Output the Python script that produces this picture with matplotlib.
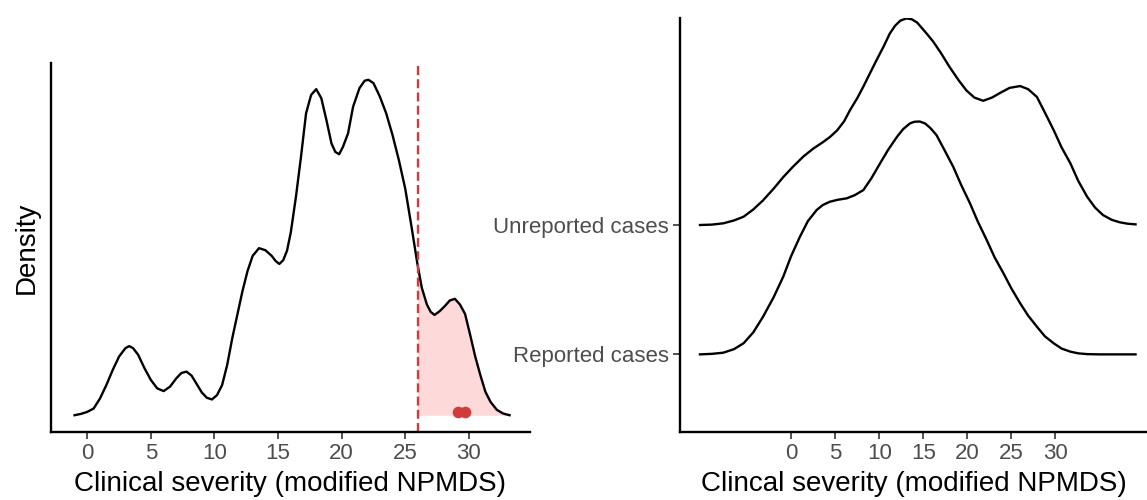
import numpy as np
import matplotlib.pyplot as plt

plt.rcParams['font.family'] = ['Liberation Sans', 'DejaVu Sans']

# left panel: density of clinical severity (relative height)
sev_x = [-1.0, -0.5, 0.0, 0.5, 1.0, 1.5, 2.0, 2.5, 3.0, 3.3, 3.6, 4.0, 4.5, 5.0, 5.5, 6.0,
         6.5, 7.0, 7.4, 7.8, 8.2, 8.6, 9.0, 9.4, 9.8, 10.2, 10.6, 11.0, 11.4, 11.8, 12.2,
         12.6, 13.0, 13.5, 14.0, 14.5, 14.8, 15.1, 15.4, 15.7, 16.0, 16.4, 16.8, 17.2, 17.6,
         18.0, 18.4, 18.8, 19.2, 19.5, 19.8, 20.1, 20.5, 20.9, 21.4, 21.8, 22.1, 22.5, 23.0,
         23.5, 24.0, 24.5, 25.0, 25.5, 25.96, 26.3, 26.7, 27.0, 27.3, 27.7, 28.1, 28.5, 28.9,
         29.3, 29.7, 30.1, 30.5, 30.9, 31.3, 31.7, 32.2, 32.7, 33.2]
sev_d = [0.0, 0.004, 0.01, 0.02, 0.05, 0.09, 0.135, 0.175, 0.2, 0.206, 0.2, 0.18, 0.14, 0.105, 0.08, 0.072,
         0.085, 0.11, 0.126, 0.13, 0.118, 0.093, 0.068, 0.052, 0.047, 0.06, 0.09, 0.15, 0.23, 0.3, 0.37,
         0.43, 0.475, 0.498, 0.492, 0.475, 0.46, 0.451, 0.462, 0.49, 0.545, 0.65, 0.77, 0.9, 0.955,
         0.972, 0.945, 0.88, 0.81, 0.785, 0.778, 0.8, 0.84, 0.92, 0.975, 0.997, 1.0, 0.99, 0.95,
         0.9, 0.835, 0.76, 0.675, 0.56, 0.45, 0.38, 0.33, 0.308, 0.299, 0.31, 0.325, 0.342, 0.347,
         0.33, 0.302, 0.24, 0.175, 0.12, 0.07, 0.04, 0.016, 0.005, 0.0]
cutoff = 25.96
cases_x = [29.15, 29.73]
cases_y = [0.01, 0.01]

# right panel: ridgelines
unrep_x = [-10.35, -9, -7.7, -6.5, -5.4, -4.3, -3.2, -2, -0.9, 0.2, 1.4, 2.5, 3.6, 4.4, 5.2, 6.0,
           6.7, 7.5, 8.2, 9.0, 9.7, 10.5, 11.2, 11.8, 12.4, 13.1, 13.7, 14.3, 15.0, 15.5, 16.1,
           17.0, 18.0, 19.0, 19.9, 20.8, 21.8, 22.8, 23.7, 24.8, 26.0, 26.9, 27.9, 28.8, 29.8,
           30.7, 31.7, 32.6, 33.6, 34.5, 35.4, 36.4, 37.3, 38.2, 39.1]
unreported = [0.0, 0.003, 0.013, 0.035, 0.064, 0.12, 0.19, 0.28, 0.37, 0.45, 0.53, 0.59, 0.64, 0.68,
              0.73, 0.8, 0.89, 0.98, 1.07, 1.18, 1.275, 1.38, 1.48, 1.54, 1.58, 1.597, 1.59, 1.565,
              1.51, 1.47, 1.42, 1.33, 1.22, 1.12, 1.04, 0.985, 0.96, 0.985, 1.02, 1.06, 1.074, 1.05,
              0.99, 0.87, 0.734, 0.6, 0.477, 0.34, 0.219, 0.135, 0.077, 0.04, 0.021, 0.01, 0.005]
rep_x = [-10.35, -9, -7.7, -6.5, -5.4, -4.3, -3.2, -2, -0.9, 0.0, 1.0, 1.9, 2.9, 3.6, 4.4, 5.3,
         6.3, 7.2, 8.2, 9.1, 10.1, 11.0, 12.0, 12.7, 13.5, 14.0, 14.6, 15.2, 15.8, 16.5, 17.4,
         18.4, 19.3, 20.3, 21.2, 22.2, 23.1, 24.1, 25.0, 26.0, 26.9, 27.9, 28.8, 29.8, 30.7,
         31.7, 32.6, 33.6, 35, 39.1]
reported = [0.0, 0.004, 0.013, 0.04, 0.086, 0.17, 0.29, 0.44, 0.6, 0.76, 0.91, 1.03, 1.116, 1.155,
            1.18, 1.195, 1.206, 1.23, 1.27, 1.36, 1.477, 1.58, 1.68, 1.74, 1.786, 1.798, 1.8, 1.785,
            1.75, 1.695, 1.58, 1.45, 1.31, 1.168, 1.025, 0.884, 0.75, 0.627, 0.51, 0.395, 0.3,
            0.214, 0.14, 0.086, 0.045, 0.021, 0.008, 0.002, 0.0, 0.0]
groups = ['Reported cases', 'Unreported cases']
ticks = [0, 5, 10, 15, 20, 25, 30]

grey = '#4D4D4D'
red = '#D33B3B'
fig = plt.figure(figsize=(11.47, 5.0), dpi=100)

# ---- left
ax = fig.add_axes([0.0445, 0.136, 0.4175, 0.738])
sx = np.array(sev_x)
sd = np.array(sev_d)
ax.fill_between(sx, 0, sd, where=sx >= cutoff, color='#FDD9D9', lw=0)
ax.plot(sx, sd, color='black', lw=1.7, solid_joinstyle='round')
ax.axvline(26, color=red, lw=1.7, ls=(0, (3.8, 1.8)))
ax.scatter(cases_x, cases_y, s=70, color=red, zorder=5, lw=0)
ax.set_xlim(-2.85, 34.8)
ax.set_ylim(-0.05, 1.05)
ax.set_xticks(ticks)
ax.set_yticks([])
ax.set_xlabel('Clinical severity (modified NPMDS)', fontsize=20, labelpad=5)
ax.set_ylabel('Density', fontsize=20, labelpad=8)

# ---- right
ax2 = fig.add_axes([0.593, 0.136, 0.407, 0.828])
ridges = [(unrep_x, unreported, 2), (rep_x, reported, 1)]
for i, (xs, vals, base) in enumerate(ridges):
    xs = np.array(xs)
    v = np.array(vals)
    ax2.fill_between(xs, base, base + v, color='white', lw=0, zorder=2 + i)
    ax2.plot(xs, base + v, color='black', lw=1.7, zorder=2 + i, solid_joinstyle='round')
ax2.set_xlim(-12.6, 40.4)
ax2.set_ylim(0.4, 3.6)
ax2.set_xticks(ticks)
ax2.set_yticks([1, 2])
ax2.set_yticklabels(groups)
ax2.set_xlabel('Clincal severity (modified NPMDS)', fontsize=20, labelpad=5)

for a in [ax, ax2]:
    for side in ['top', 'right']:
        a.spines[side].set_visible(False)
    for side in ['left', 'bottom']:
        a.spines[side].set_linewidth(1.7)
    a.tick_params(colors=grey, labelsize=16, length=5, width=1.2, pad=3)
    a.tick_params(axis='both', color='#333333')

plt.savefig('out.png', dpi=100)
